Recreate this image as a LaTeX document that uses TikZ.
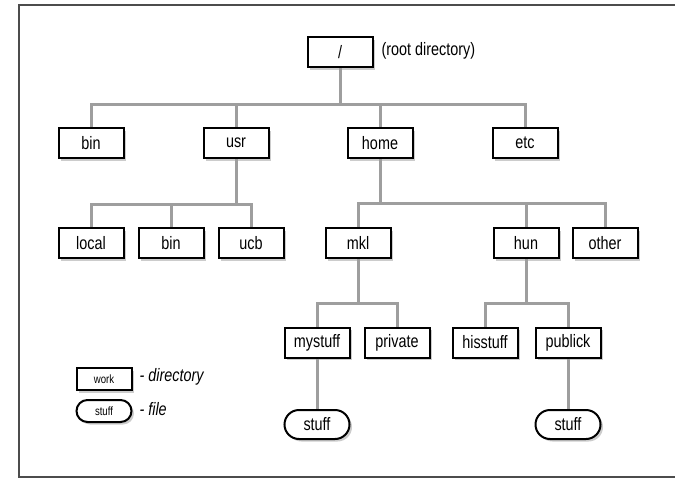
\documentclass[tikz,border=0pt]{standalone}
\usepackage{fontspec}
\setmainfont{Liberation Sans}[FakeStretch = 0.8]
\usetikzlibrary{shadows}
\usetikzlibrary{shapes.misc}

\tikzset{
    dir/.style = {draw, line width = 2pt, fill = white, minimum width = 65pt,
        minimum height = 30pt, inner sep = 0pt,
        drop shadow = {shadow xshift = 2.5pt, shadow yshift = -2.5pt, opacity = 0.4}},
    file/.style = {dir, rounded rectangle, minimum height = 29pt},
    conn/.style = {draw = black!38, line width = 3pt}
}

\begin{document}
\begin{tikzpicture}[x = 1pt, y = -1pt, font = \fontsize{18}{21}\selectfont]
    \useasboundingbox (0, 0) rectangle (675, 479);
    % frame, right side runs off the page
    \draw [black!70, line width = 1.3pt] (19, 5) rectangle (690, 477);

    \node [dir] (root) at (340, 52) {/};
    \node [right] (rootlabel) at (378, 51) {(root directory)};

    \node [dir] (bin) at (91, 143) {bin};
    \node [dir] (usr) at (236, 143) {usr};
    \node [dir] (home) at (380, 143) {home};
    \node [dir] (etc) at (525, 143) {etc};

    \node [dir] (local) at (91, 243) {local};
    \node [dir] (usrbin) at (171, 243) {bin};
    \node [dir] (ucb) at (251, 243) {ucb};
    \node [dir] (mkl) at (358, 243) {mkl};
    \node [dir] (hun) at (526, 243) {hun};
    \node [dir] (other) at (605, 243) {other};

    \node [dir] (mystuff) at (317, 342.5) {mystuff};
    \node [dir] (private) at (397, 342.5) {private};
    \node [dir] (hisstuff) at (485, 342.5) {hisstuff};
    \node [dir] (publick) at (568, 342.5) {publick};

    \node [file] (mystufffile) at (317, 424.5) {stuff};
    \node [file] (publickfile) at (568, 424.5) {stuff};

    % the bars each level hangs from
    \coordinate (rootbar) at (340, 104);
    \coordinate (usrbar) at (236, 204);
    \coordinate (homebar) at (380, 203);
    \coordinate (mklbar) at (358, 303);
    \coordinate (hunbar) at (526, 303);

    \draw [conn] (root) -- (rootbar);
    \draw [conn] (bin) |- (rootbar) -| (etc);
    \foreach \n in {usr, home}
        \draw [conn] (rootbar -| \n) -- (\n);

    \draw [conn] (usr) -- (usrbar);
    \draw [conn] (local) |- (usrbar) -| (ucb);
    \draw [conn] (usrbar -| usrbin) -- (usrbin);

    \draw [conn] (home) -- (homebar);
    \draw [conn] (mkl) |- (homebar) -| (other);
    \draw [conn] (homebar -| hun) -- (hun);

    \draw [conn] (mkl) -- (mklbar);
    \draw [conn] (mystuff) |- (mklbar) -| (private);

    \draw [conn] (hun) -- (hunbar);
    \draw [conn] (hisstuff) |- (hunbar) -| (publick);

    \draw [conn] (mystuff) -- (mystufffile);
    \draw [conn] (publick) -- (publickfile);

    % legend
    \node [dir, minimum width = 55pt, minimum height = 22pt,
        font = \fontsize{12}{14}\selectfont] (legdir) at (104, 379) {work};
    \node [file, minimum width = 55pt, minimum height = 22pt,
        font = \fontsize{12}{14}\selectfont] (legfile) at (104, 411) {stuff};
    \node [right, font = \fontsize{18}{21}\selectfont\itshape] (legdirtext)
        at (136, 377) {- directory};
    \node [right, font = \fontsize{18}{21}\selectfont\itshape] (legfiletext)
        at (136, 409) {- file};
\end{tikzpicture}
\end{document}
